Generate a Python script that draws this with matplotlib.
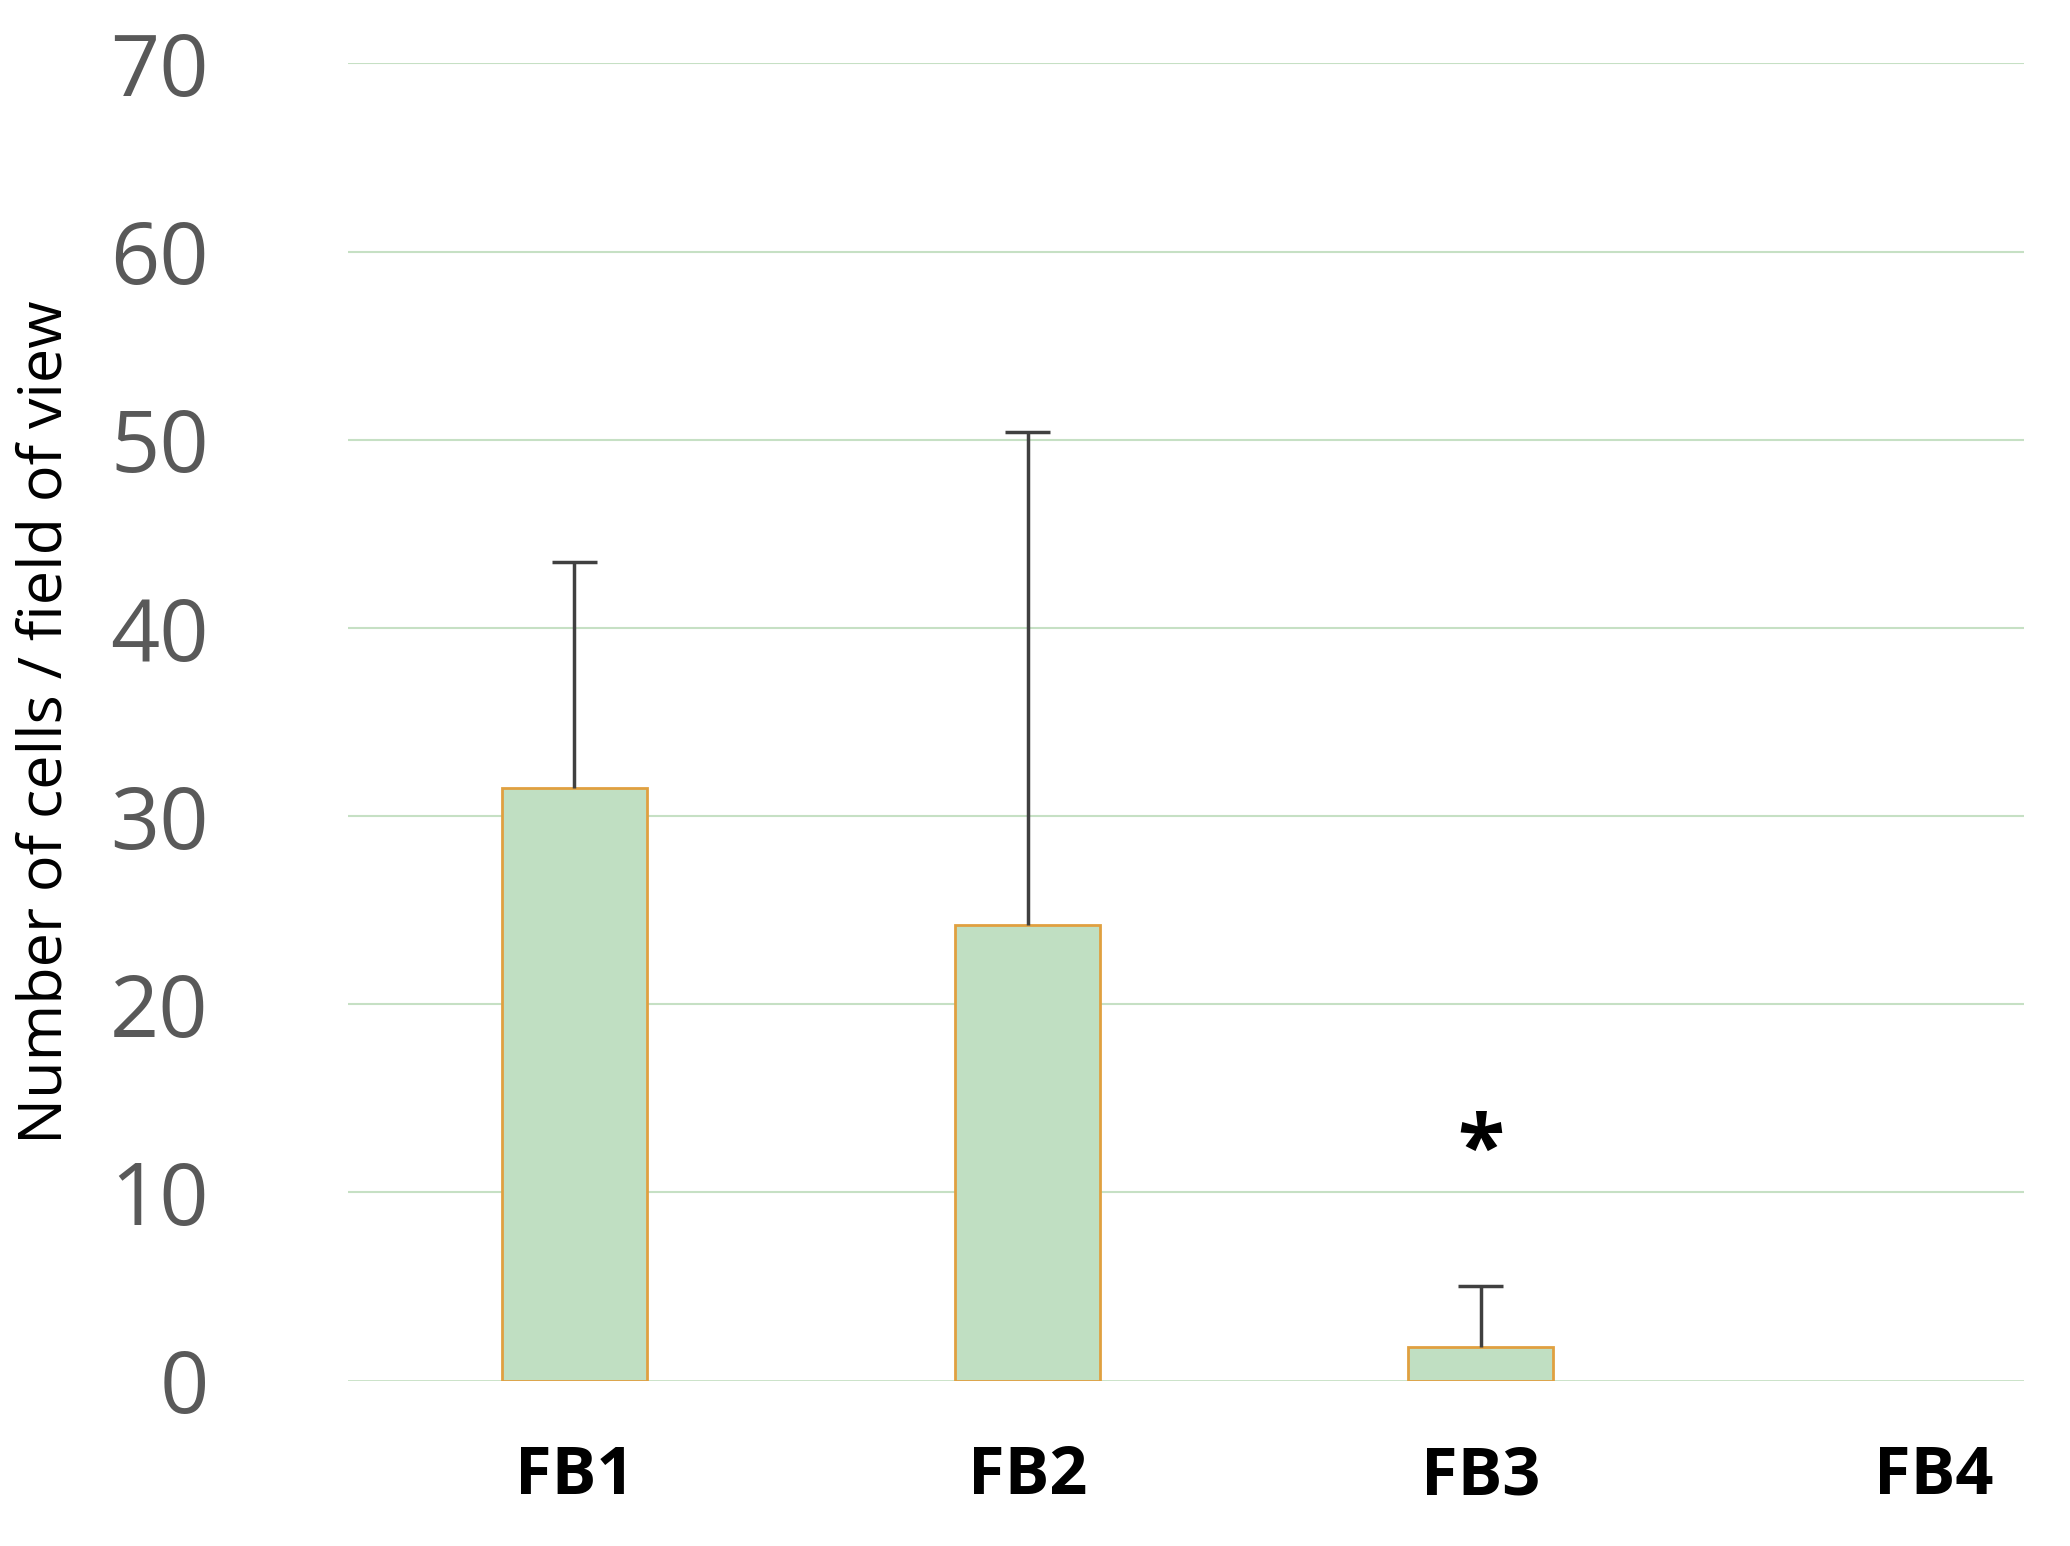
import matplotlib
matplotlib.use("Agg")
import matplotlib.pyplot as plt

categories = ["FB1", "FB2", "FB3", "FB4"]
means = [31.5, 24.2, 1.8, 0.0]
err_upper = [12.0, 26.2, 3.2, 0.0]
yticks = [0, 10, 20, 30, 40, 50, 60, 70]

plt.rcParams["font.family"] = ["Open Sans", "DejaVu Sans"]
fig = plt.figure(figsize=(20.7, 15.46), dpi=100)
ax = fig.add_axes([0.168, 0.107, 0.81, 0.852])
x = list(range(len(categories)))
for gy in yticks[1:]:
    ax.axhline(gy, color="#c6e0c4", lw=1.5, zorder=0)
ax.axhline(0, color="#c6e0c4", lw=2, zorder=0)
ax.bar(x[:3], means[:3], width=0.32, color="#c0dfc2", edgecolor="#e0a040", linewidth=2, zorder=2)
tops = [m + e for m, e in zip(means, err_upper)]
ax.vlines(x[:3], means[:3], tops[:3], color="#404040", lw=2.5, zorder=3)
ax.hlines(tops[:3], [v - 0.05 for v in x[:3]], [v + 0.05 for v in x[:3]], color="#404040", lw=2.5, zorder=3)
ax.text(2, 12, "*", ha="center", va="center", fontsize=62, fontweight="bold")
ax.set_xlim(-0.5, 3.2)
ax.set_ylim(0, 70)
ax.set_yticks(yticks)
ax.set_yticklabels([str(v) for v in yticks], fontsize=62, color="#595959")
ax.set_xticks(x)
ax.set_xticklabels(categories, fontsize=48, fontweight="bold")
ax.tick_params(length=0, axis="y", pad=100)
ax.tick_params(length=0, axis="x", pad=45)
for s in ax.spines.values():
    s.set_visible(False)
ax.set_ylabel("Number of cells / field of view", fontsize=44, labelpad=25)
fig.savefig("out.png")
